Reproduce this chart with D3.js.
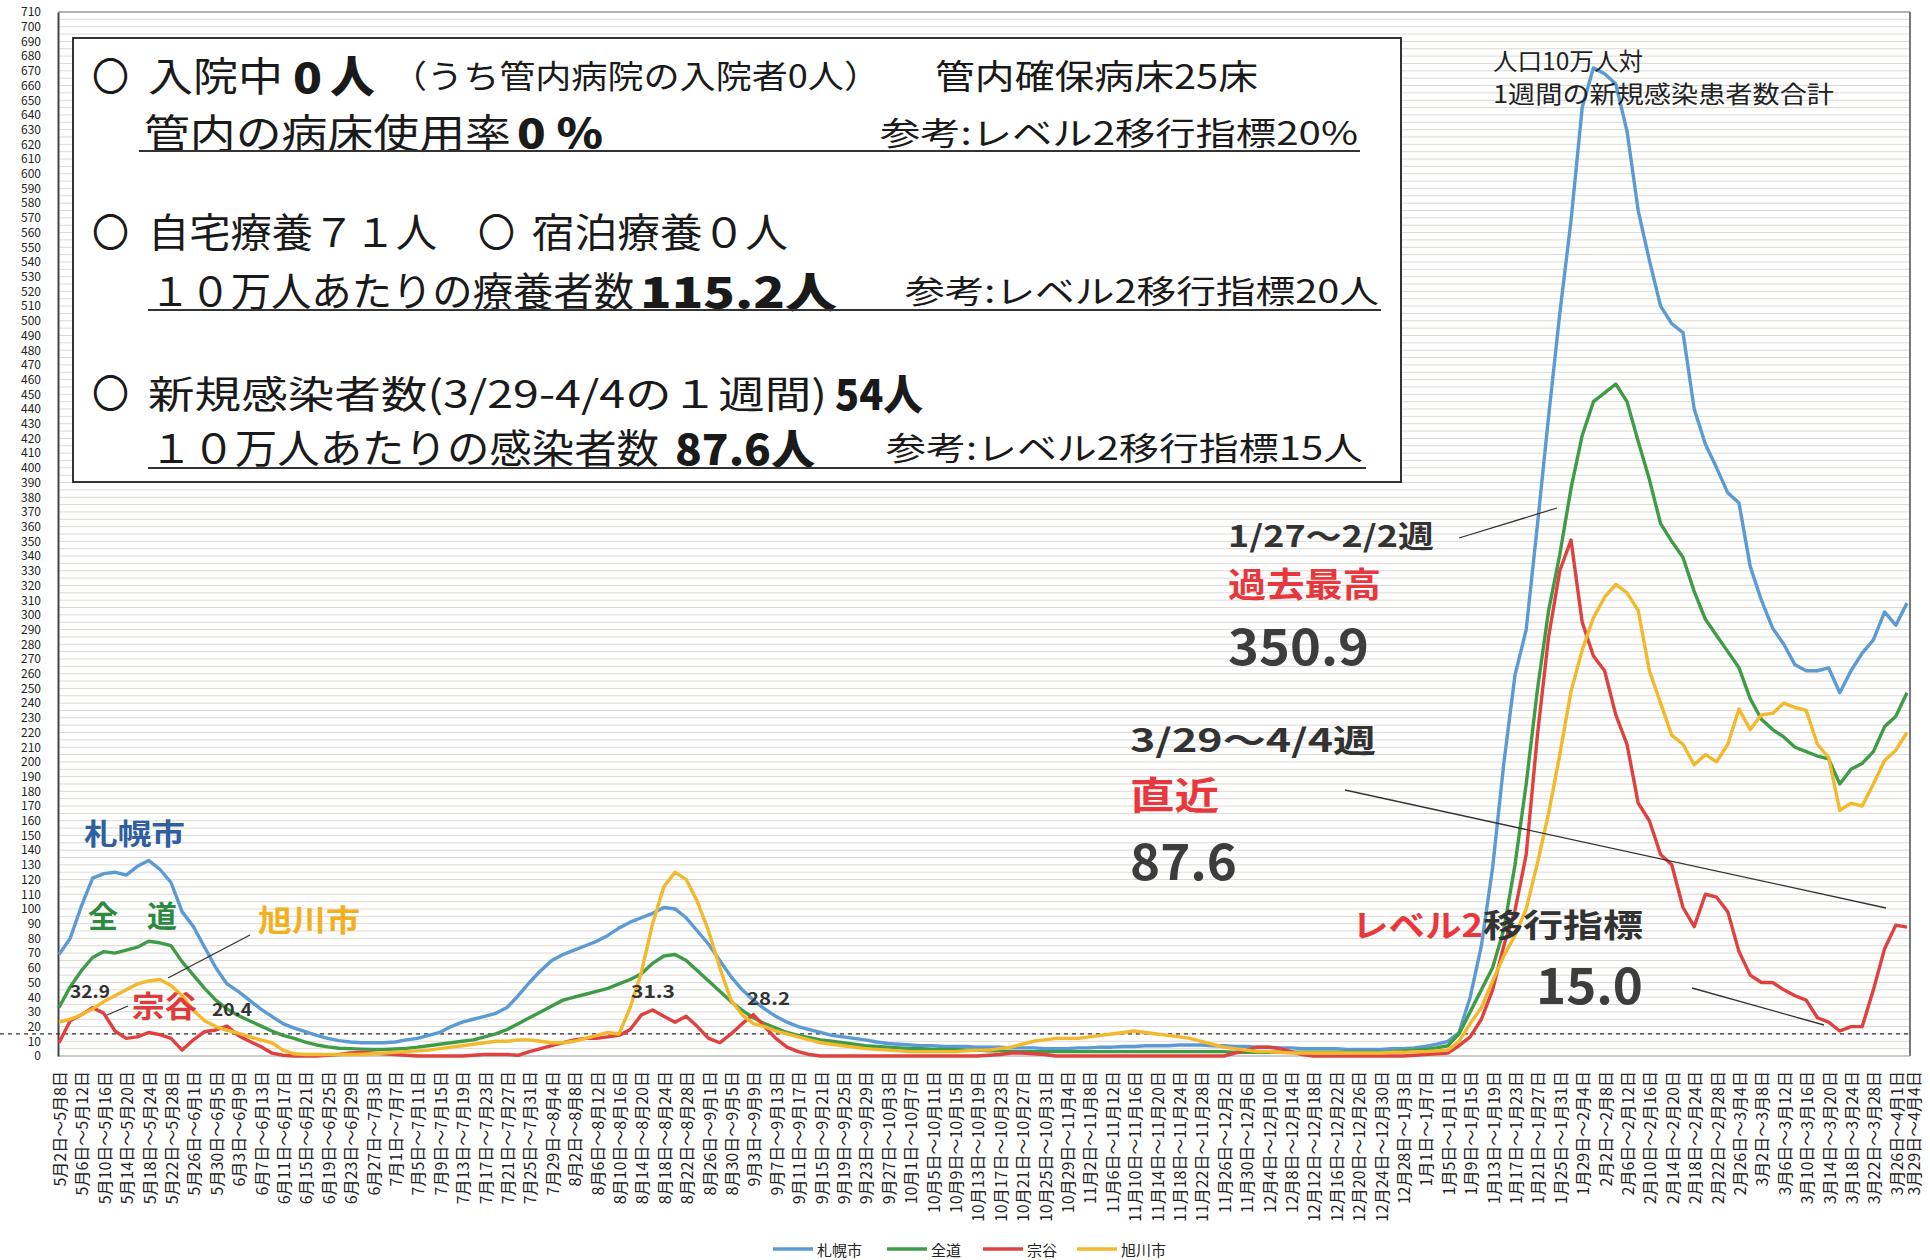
<!DOCTYPE html>
<html><head><meta charset="utf-8">
<script src="https://cdn.jsdelivr.net/npm/d3@7"></script>
<style>
body{margin:0;background:#fff;}
svg{display:block;}
text{font-family:"Noto Sans CJK JP","Noto Sans",sans-serif;}
</style></head><body>
<svg id="c" width="1930" height="1260"></svg>
<script>
// ---- DATA ----
const tickLabels = [
"5月2日～5月8日","5月6日～5月12日","5月10日～5月16日","5月14日～5月20日","5月18日～5月24日","5月22日～5月28日","5月26日～6月1日","5月30日～6月5日",
"6月3日～6月9日","6月7日～6月13日","6月11日～6月17日","6月15日～6月21日","6月19日～6月25日","6月23日～6月29日","6月27日～7月3日",
"7月1日～7月7日","7月5日～7月11日","7月9日～7月15日","7月13日～7月19日","7月17日～7月23日","7月21日～7月27日","7月25日～7月31日","7月29日～8月4日",
"8月2日～8月8日","8月6日～8月12日","8月10日～8月16日","8月14日～8月20日","8月18日～8月24日","8月22日～8月28日","8月26日～9月1日","8月30日～9月5日",
"9月3日～9月9日","9月7日～9月13日","9月11日～9月17日","9月15日～9月21日","9月19日～9月25日","9月23日～9月29日","9月27日～10月3日",
"10月1日～10月7日","10月5日～10月11日","10月9日～10月15日","10月13日～10月19日","10月17日～10月23日","10月21日～10月27日","10月25日～10月31日","10月29日～11月4日",
"11月2日～11月8日","11月6日～11月12日","11月10日～11月16日","11月14日～11月20日","11月18日～11月24日","11月22日～11月28日","11月26日～12月2日","11月30日～12月6日",
"12月4日～12月10日","12月8日～12月14日","12月12日～12月18日","12月16日～12月22日","12月20日～12月26日","12月24日～12月30日","12月28日～1月3日",
"1月1日～1月7日","1月5日～1月11日","1月9日～1月15日","1月13日～1月19日","1月17日～1月23日","1月21日～1月27日","1月25日～1月31日","1月29日～2月4日",
"2月2日～2月8日","2月6日～2月12日","2月10日～2月16日","2月14日～2月20日","2月18日～2月24日","2月22日～2月28日","2月26日～3月4日",
"3月2日～3月8日","3月6日～3月12日","3月10日～3月16日","3月14日～3月20日","3月18日～3月24日","3月22日～3月28日","3月26日～4月1日","3月29日～4月4日"
];

// values every 2 days (window end dates 5/8, 5/10, ... 4/3-4/4)
const sapporo = [
69,80,102,121,124,125,123,129,133,127,
118,98,88,74,60,49,44,38,32,27,
22,19,16.5,14,12,10.5,9.5,9,9,9,
9.5,11,12,14,16,20,23,25,27,29,
33,41,50,58,65,69,72,75,78,82,
87,91,94,97,101,100,94,85,76,65,
54,45,38,32,27,23,20,18,16,14,
13,12,11,9.5,8.5,8,7.5,7,7,6.5,
6.5,6.5,6,6,6,5.5,5.5,5.5,5,5,
5,5.5,5.5,6,6,6.5,6.5,7,7,7,
7.5,7.5,7.5,7,7,6.5,6.5,6,6,5.5,
5.5,5,5,5,5,4.5,4.5,4.5,4.5,5,
5,5.5,6.5,8,10,16,40,75,128,199,
259,290,361,435,505,568,645,672,668,661,
629,575,541,510,498,492,440,416,400,383,
376,333,310,291,280,266,262,262,264,247,
262,274,283,302,293,308
];
const zendo = [
33,47,58,67,71,70,72,74,78,77,
75,64,55,46,38,32,27.5,24,20.5,17,
14,12,9.5,7.5,6.2,5.3,5,4.7,4.5,4.5,
4.8,5.2,6,7,8,9,10,11,13,15,
18,22,26,30,34,38,40,42,44,46,
49,52,56,63,68,69,65,58,51,44,
37,31,26,22,19,16,14,12.5,11,10,
9,8,7,6.5,6,5.5,5,5,4.5,4.5,
4.5,4,4,3.5,3.5,3,3,3,3,3,
3,3,3,3,3,3,3,3,3,3,
3,3,3,3,3,2.5,2.5,2.5,2.5,2.5,
2.5,2.5,2.5,2.5,2.5,2.5,2.5,2.5,2.5,3,
3.5,4,4.5,5.5,7,15,30,45,60,86,
130,185,249,303,341,386,422,445,451,457,
445,418,392,362,350,339,316,297,286,275,
264,243,229,222,217,210,207,204,202,185,
195,199,207,224,231,247
];
const soya = [
9,24,28,32.9,29,17,12,13,16,14.5,
12,4,11,16.5,17.7,20.4,14,10,6.5,2,
0.5,0,0,0,0.5,1,2,2.5,2,1.5,
1,0.5,0,0,0,0,0,0.5,1,1,
1,0.5,3,5,7,9,11,12,12,13,
14,18,28,31.3,27,23,27,20,12,9,
15,22,28.2,20,12,6,3,1,0,0,
0,0,0,0,0,0,0,0,0,0,
0,0,0,0.5,1,2,2,1.5,1,0,
0,0,0,0,0,0,0,0,0,0,
0,0,0,0,0,2,4,6,6,5,
3,1,0,0,0,0,0,0,0,0,
0,0.5,1,1.5,2,7,13,25,45,75,
99,137,218,285,330,350.9,295,272,262,232,
212,172,160,137,130,101,88,110,108,98,
71,55,50,50,45,41,38,26,23,17,
20,20,45,73,89,87.6
];
const asahikawa = [
23,25,28,32,37,41,45,49,51,52,
48,41,31,24,20,17.5,15.5,13,11,9,
4,1.5,1,1,1,1,1,1,1.5,2,
2.5,3,3.5,4,5,6,7,8,9,10,
10,11,11,10,9,9,10,12,14,16,
15,33,57,90,115,125,120,105,85,60,
38,28,22,20,17,15,13,11,9,8,
7,6,5,4.5,4,3.5,3,3,3,3,
3,3.5,4,4,5,6,8,10,11,12,
12,12,13,14,15,16,17,16,15,14,
13,12,10,8,6,5,4,3,3,2.5,
2,2,2,2,2,2,2,2,2,2.5,
2.5,3,3,3.5,4,10,22,33,51,68,
82,100,131,165,205,248,276,298,312,320.7,
315,303,262,240,218,212,198,205,200,212,
236,222,232,233,240,237,235,212,203,167,
172,170,185,201,208,220
];
const seriesNames = ["札幌市","全道","宗谷","旭川市"];
const seriesColors = ["#5b9bd5","#3f9c46","#e0413e","#f4b82c"];
const yTicks = d3.range(0, 711, 10);
const gridValues = d3.range(5, 711, 5);
const threshold = 15;

// ---- CHART ----
const svg = d3.select("#c");
const series = [sapporo, zendo, soya, asahikawa];
const x = d3.scaleLinear().domain([0, 165]).range([59, 1907]);
const y = d3.scaleLinear().domain([0, 710]).range([1056, 12]);

// gridlines
svg.append("g").selectAll("line").data(gridValues).join("line")
  .attr("x1", 59).attr("x2", 1910)
  .attr("y1", d => y(d)).attr("y2", d => y(d))
  .attr("stroke", "#dcd9d2").attr("stroke-width", 1);

// frame
svg.append("line").attr("x1",58).attr("x2",1910).attr("y1",12).attr("y2",12).attr("stroke","#777").attr("stroke-width",1.2);
svg.append("line").attr("x1",1910).attr("x2",1910).attr("y1",12).attr("y2",1056).attr("stroke","#555").attr("stroke-width",1.6);
svg.append("line").attr("x1",58).attr("x2",1910).attr("y1",1056).attr("y2",1056).attr("stroke","#999").attr("stroke-width",1);

// y axis
const yAxis = d3.axisLeft(y).tickValues(yTicks).tickSize(0).tickPadding(17);
const ga = svg.append("g").attr("transform","translate(58,0)").call(yAxis);
ga.select(".domain").attr("stroke","#444").attr("stroke-width",2);
ga.selectAll("text").attr("font-family","DejaVu Sans").attr("font-size",12).attr("fill","#222");

// text box
svg.append("rect").attr("x",73).attr("y",38).attr("width",1328).attr("height",444)
  .attr("fill","#fff").attr("stroke","#333").attr("stroke-width",2);

// threshold dashed line
svg.append("line").attr("x1",0).attr("x2",1910).attr("y1",y(threshold)).attr("y2",y(threshold))
  .attr("stroke","#333").attr("stroke-width",1.2).attr("stroke-dasharray","4,4");

// lines
const line = d3.line().x((d,i) => x(i)).y(d => y(d));
series.forEach((s, k) => {
  svg.append("path").datum(s).attr("d", line).attr("fill","none")
    .attr("stroke", seriesColors[k]).attr("stroke-width",3.4).attr("stroke-linejoin","round");
});

// x labels
svg.append("g").selectAll("text").data(tickLabels).join("text")
  .attr("transform", (d,j) => `translate(${j < 83 ? x(2*j) : x(165.5)},1071) rotate(-90)`)
  .attr("text-anchor","end").attr("dominant-baseline","central")
  .attr("font-size",16).attr("fill","#222").text(d => d);

// legend
const legX = [773, 887, 983, 1077];
seriesNames.forEach((n,k) => {
  svg.append("line").attr("x1",legX[k]).attr("x2",legX[k]+40).attr("y1",1249).attr("y2",1249)
    .attr("stroke",seriesColors[k]).attr("stroke-width",3.5);
  svg.append("text").attr("x",legX[k]+44).attr("y",1249).attr("dominant-baseline","central")
    .attr("font-size",15).attr("fill","#222").text(n);
});

// text helper
function T(t, xx, yy, size, opts={}) {
  const el = svg.append("text").attr("x",xx).attr("y",yy).attr("font-size",size)
    .attr("dominant-baseline","central").attr("fill",opts.fill||"#1a1a1a")
    .attr("font-weight",opts.w||400).text(t);
  if (opts.font) el.attr("font-family",opts.font);
  if (opts.len) el.attr("textLength",opts.len).attr("lengthAdjust","spacingAndGlyphs");
  return el;
}
function L(x1,y1,x2,y2,w=1.3){ svg.append("line").attr("x1",x1).attr("y1",y1).attr("x2",x2).attr("y2",y2).attr("stroke","#333").attr("stroke-width",w); }

// box text
T("〇",92,74,40,{len:37});
T("入院中",148,74,40,{len:135});
T("0",293,74,42,{w:900,len:29});
T("人",330,74,44,{w:900,len:45});
T("（うち管内病院の入院者0人）",391,74,32,{len:489});
T("管内確保病床25床",935,74,34,{len:323});
T("管内の病床使用率",144,131,40,{len:367});
T("0 %",517,131,40,{w:900,len:86});
T("参考:レベル2移行指標20%",880,131,32,{len:478});
L(139,151,1360,151,2);
T("〇",92,230,40,{len:37});
T("自宅療養７１人",148,230,40,{len:289});
T("〇",478,230,40,{len:37});
T("宿泊療養０人",532,230,40,{len:256});
T("１０万人あたりの療養者数",150,289,40,{len:484});
T("115.2人",640,289,42,{w:900,len:197});
T("参考:レベル2移行指標20人",905,289,32,{len:474});
L(148,310,1381,310,2);
T("〇",92,391,40,{len:37});
T("新規感染者数(3/29-4/4の１週間)",148,391,38,{len:679});
T("54人",835,391,42,{w:900,len:88});
T("１０万人あたりの感染者数",150,446,40,{len:509});
T("87.6人",675,446,42,{w:900,len:140});
T("参考:レベル2移行指標15人",886,446,32,{len:477});
L(148,468,1366,468,2);

// chart annotations
T("人口10万人対",1493,59,24,{fill:"#222",len:150});
T("1週間の新規感染患者数合計",1493,92,24,{fill:"#222",len:341});
T("1/27～2/2週",1228,534,30,{w:700,fill:"#333",len:206});
T("過去最高",1228,582,34,{w:700,fill:"#e8383d",len:153});
T("350.9",1228,643,50,{w:700,fill:"#3d3d3d",len:141,font:"Liberation Sans"});
T("3/29～4/4週",1130,738,32,{w:700,fill:"#333",len:246});
T("直近",1130,792,38,{w:700,fill:"#e8383d",len:89});
T("87.6",1130,858,50,{w:700,fill:"#3d3d3d",len:107,font:"Liberation Sans"});
T("レベル2",1352,923,32,{w:700,fill:"#e8383d",len:131});
T("移行指標",1483,923,32,{w:700,fill:"#333",len:160});
T("15.0",1536,982,50,{w:700,fill:"#3d3d3d",len:107,font:"Liberation Sans"});
T("札幌市",84,832,29,{w:700,fill:"#2f5f9f",len:101});
T("全",88,914,30,{w:700,fill:"#2d8a43",len:30});
T("道",147,914,30,{w:700,fill:"#2d8a43",len:30});
T("旭川市",258,918,30,{w:700,fill:"#f2b01e",len:102});
T("宗谷",132,1004,30,{w:700,fill:"#e03a3a",len:65});
T("32.9",70,990,18,{w:700,fill:"#333",len:40,font:"Liberation Sans"});
T("20.4",212,1008,18,{w:700,fill:"#333",len:40,font:"Liberation Sans"});
T("31.3",631,990,18,{w:700,fill:"#333",len:44,font:"Liberation Sans"});
T("28.2",747,997,18,{w:700,fill:"#333",len:43,font:"Liberation Sans"});

L(250,935,168,978);
L(128,1006,107,1015);
L(1459,538,1557,508);
L(1345,790,1886,908);
L(1692,988,1824,1025);
</script>
</body></html>
